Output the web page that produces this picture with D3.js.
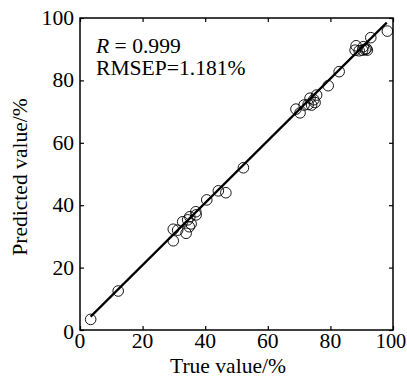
<!DOCTYPE html>
<html>
<head>
<meta charset="utf-8">
<script src="https://cdn.jsdelivr.net/npm/d3@7"></script>
<style>
  body { margin: 0; background: #fff; }
  svg text { font-family: "Liberation Serif", Tinos, "Times New Roman", Times, "Nimbus Roman", "DejaVu Serif", serif !important; fill: #000; }
</style>
</head>
<body>
<div class="scatter"></div>
<script>
// measured samples: true value (%) vs predicted value (%)
var trueVals = [3.4, 12.2, 29.8, 29.8, 31.2, 32.8, 33.9, 34.4, 35.1, 34.9, 35.5, 37.1, 37.0,
  40.5, 44.2, 46.6, 52.2, 69.0, 70.3, 71.6, 72.9, 73.5, 74.0, 74.7, 75.6, 75.1,
  79.3, 82.8, 87.9, 88.2, 89.2, 90.3, 91.1, 91.5, 90.5, 91.8, 92.9, 98.2];
var predVals = [3.4, 12.5, 32.3, 28.6, 32.0, 34.7, 31.0, 35.3, 36.3, 33.1, 34.0, 36.9, 37.9,
  41.7, 44.6, 44.0, 52.0, 70.8, 69.6, 72.1, 72.3, 74.3, 72.1, 73.8, 75.3, 72.9,
  78.3, 82.8, 89.7, 91.1, 89.5, 89.7, 89.9, 90.2, 90.8, 89.7, 93.7, 95.8];
var tickVals = [0, 20, 40, 60, 80, 100];
var fitRange = [3.4, 98];
var fitSlope = 0.996, fitIntercept = 0.9;
var statLines = ["R = 0.999", "RMSEP=1.181%"];

var width = 407, height = 379;
var fs = 20, stretch = 1.08; // source figure text is slightly wider than tall

var svg = d3.select(".scatter").append("svg")
  .attr("width", width).attr("height", height);

var x = d3.scaleLinear().domain([0, 100]).range([80, 393]);
var y = d3.scaleLinear().domain([0, 100]).range([330, 18]);

// frame
svg.append("rect")
  .attr("x", 80).attr("y", 18).attr("width", 313).attr("height", 312)
  .attr("fill", "none").attr("stroke", "#000").attr("stroke-width", 1.5);

function ticks(g) { g.select(".domain").remove(); g.selectAll("line").attr("stroke", "#000").attr("stroke-width", 1.2); }

// place a text at (px,py) with horizontal stretch
function label(px, py, str, anchor, sx) {
  return svg.append("text")
    .attr("transform", "translate(" + px + "," + py + ") scale(" + (sx || stretch) + ",1)")
    .attr("text-anchor", anchor || "start")
    .attr("font-size", fs).text(str);
}

// inward ticks on all four sides
svg.append("g").attr("transform", "translate(0,330)")
  .call(d3.axisBottom(x).tickValues(tickVals).tickSizeInner(-4).tickSizeOuter(0).tickFormat(""))
  .call(ticks);
svg.append("g").attr("transform", "translate(0,18)")
  .call(d3.axisTop(x).tickValues(tickVals).tickSizeInner(-4).tickSizeOuter(0).tickFormat(""))
  .call(ticks);
svg.append("g").attr("transform", "translate(80,0)")
  .call(d3.axisLeft(y).tickValues(tickVals).tickSizeInner(-4).tickSizeOuter(0).tickFormat(""))
  .call(ticks);
svg.append("g").attr("transform", "translate(393,0)")
  .call(d3.axisRight(y).tickValues(tickVals).tickSizeInner(-4).tickSizeOuter(0).tickFormat(""))
  .call(ticks);

// tick labels (last x label pulled in so it stays inside the picture)
tickVals.forEach(function (t) {
  label(x(t) - (t === 100 ? 2 : 0), 348, t, "middle", t === 100 ? 1.02 : stretch);
  label(74, y(t) + (t === 0 ? 9 : 7), t, "end");
});

// fit line
var line = d3.line().x(function (d) { return x(d); }).y(function (d) { return y(fitIntercept + fitSlope * d); });
svg.append("path").datum(fitRange)
  .attr("d", line).attr("fill", "none").attr("stroke", "#000").attr("stroke-width", 2.2);

// sample circles
svg.append("g").selectAll("circle")
  .data(trueVals)
  .enter().append("circle")
  .attr("cx", function (d) { return x(d); })
  .attr("cy", function (d, i) { return y(predVals[i]); })
  .attr("r", 5.3)
  .attr("fill", "none").attr("stroke", "#000").attr("stroke-width", 0.9);

// statistics
var stat = label(96, 53, null);
stat.append("tspan").attr("font-style", "italic").text("R");
stat.append("tspan").text(statLines[0].slice(1));
label(96, 75, statLines[1]);

// axis titles
label(228, 373, "True value/%", "middle");
svg.append("text").attr("transform", "translate(27,177) rotate(-90) scale(" + stretch + ",1)")
  .attr("text-anchor", "middle").attr("font-size", fs).text("Predicted value/%");
</script>
</body>
</html>
